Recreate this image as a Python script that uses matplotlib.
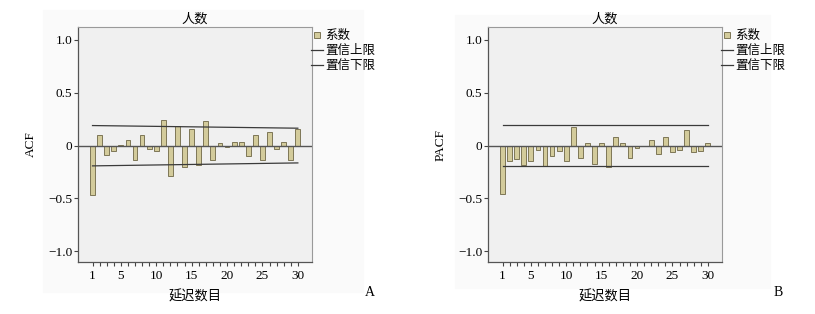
import matplotlib
matplotlib.use("Agg")
import matplotlib.pyplot as plt
import numpy as np
from matplotlib.patches import Rectangle
from matplotlib.lines import Line2D

# lags and coefficients
lags = np.arange(1, 31)
acf = [-0.466, 0.098, -0.085, -0.054, 0.005, 0.050, -0.132, 0.104, -0.028, -0.054,
       0.239, -0.283, 0.186, -0.205, 0.161, -0.180, 0.236, -0.139, 0.022, -0.010,
       0.035, 0.031, -0.098, 0.098, -0.139, 0.126, -0.031, 0.038, -0.139, 0.154]
pacf = [-0.460, -0.145, -0.126, -0.183, -0.145, -0.038, -0.189, -0.094, -0.047, -0.142,
        0.180, -0.113, 0.025, -0.170, 0.025, -0.198, 0.085, 0.022, -0.117, -0.022,
        -0.005, 0.057, -0.076, 0.082, -0.060, -0.038, 0.145, -0.060, -0.054, 0.028]

# confidence limits at lag 1 and lag 30
limit_lags = [1, 30]
acf_upper = [0.189, 0.164]
acf_lower = [-0.192, -0.164]
pacf_upper = [0.197, 0.197]
pacf_lower = [-0.189, -0.189]

yticks = [1.0, 0.5, 0, -0.5, -1.0]
ytick_labels = ["1.0", "0.5", "0", "\u22120.5", "\u22121.0"]
xticks = [1, 5, 10, 15, 20, 25, 30]

cjk = ["Noto Sans CJK SC", "DejaVu Sans"]
serif = "Liberation Serif"
bar_fill = "#d3cb9b"
bar_edge = "#7d7656"
line_col = "#3a3a3a"

fig = plt.figure(figsize=(8.15, 3.14), dpi=100)

# faint panel backgrounds
fig.patches.append(Rectangle((43 / 815, 22 / 314), 320 / 815, 282 / 314,
                             transform=fig.transFigure, color="#fafafa", zorder=-5))
fig.patches.append(Rectangle((455 / 815, 26 / 314), 315 / 815, 273 / 314,
                             transform=fig.transFigure, color="#fafafa", zorder=-5))

panels = [
    (78, acf, acf_upper, acf_lower, "ACF", "A", 370),
    (488, pacf, pacf_upper, pacf_lower, "PACF", "B", 778),
]

for left, vals, up, lo, ylab, letter, letter_x in panels:
    ax = fig.add_axes([left / 815, 52 / 314, 234 / 815, 235 / 314])
    ax.set_facecolor("#f0f0f0")
    ax.bar(lags, vals, width=0.68, color=bar_fill, edgecolor=bar_edge, linewidth=0.7, zorder=2)
    ax.axhline(0, color="#555555", linewidth=1.0, zorder=3)
    ax.plot(limit_lags, up, color=line_col, linewidth=0.9, zorder=3)
    ax.plot(limit_lags, lo, color=line_col, linewidth=0.9, zorder=3)

    ax.set_xlim(-1.05, 32.0)
    ax.set_ylim(-1.1, 1.12)
    ax.set_yticks(yticks)
    ax.set_yticklabels(ytick_labels, fontfamily=serif, fontsize=9.5)
    ax.set_xticks(xticks)
    ax.set_xticklabels([str(t) for t in xticks], fontfamily=serif, fontsize=9.5)
    ax.set_xticks(lags, minor=True)
    ax.tick_params(axis="x", which="both", direction="out", length=3, width=0.8,
                   color="#444444", pad=3)
    ax.tick_params(axis="y", direction="out", length=3, width=0.8, color="#444444", pad=1)
    for side in ["top", "right"]:
        ax.spines[side].set_color("#9a9a9a")
        ax.spines[side].set_linewidth(0.8)
    for side in ["left", "bottom"]:
        ax.spines[side].set_color("#555555")
        ax.spines[side].set_linewidth(0.9)

    ax.set_title("人数", fontfamily=cjk, fontsize=9.5, pad=3)
    ax.set_ylabel(ylab, fontfamily=serif, fontsize=9.5, labelpad=8)
    ax.set_xlabel("延迟数目", fontfamily=cjk, fontsize=9.5, labelpad=6)

    handles = [
        Line2D([], [], linestyle="none", marker="s", markersize=5,
               markerfacecolor=bar_fill, markeredgecolor=bar_edge, markeredgewidth=0.7),
        Line2D([], [], color=line_col, linewidth=0.9),
        Line2D([], [], color=line_col, linewidth=0.9),
    ]
    ax.legend(handles, ["系数", "置信上限", "置信下限"], loc="upper left",
              bbox_to_anchor=(0.995, 0.99), frameon=False, prop={"family": cjk, "size": 9},
              handlelength=1.0, handletextpad=0.15, labelspacing=0.15,
              borderaxespad=0.0, borderpad=0.0)

    fig.text(letter_x / 815, 1 - 292 / 314, letter, fontfamily=serif, fontsize=10,
             ha="center", va="center")

fig.savefig("out.png", dpi=100)
